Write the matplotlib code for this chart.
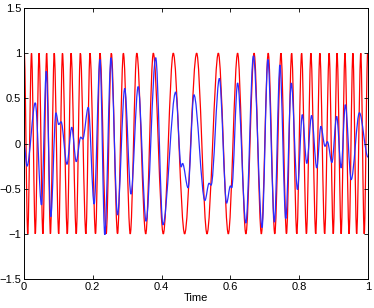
import numpy as np
import matplotlib
matplotlib.use('Agg')
import matplotlib.pyplot as plt
from matplotlib.path import Path
from matplotlib.patches import PathPatch

plt.rcParams['font.family'] = ['Liberation Sans', 'DejaVu Sans']

# red signal: times of the peaks (+1) and troughs (-1)
red_peak_t = [0.001, 0.022, 0.044, 0.066, 0.088, 0.112, 0.137, 0.164, 0.192, 0.221,
              0.254, 0.289, 0.328, 0.376, 0.434, 0.502, 0.565, 0.621, 0.669, 0.710,
              0.747, 0.778, 0.807, 0.834, 0.860, 0.887, 0.910, 0.933, 0.956, 0.979, 0.999]
red_trough_t = [0.011, 0.033, 0.055, 0.077, 0.101, 0.126, 0.152, 0.180, 0.208, 0.239,
                0.272, 0.309, 0.354, 0.405, 0.467, 0.532, 0.594, 0.645, 0.690, 0.729,
                0.763, 0.793, 0.821, 0.848, 0.874, 0.899, 0.922, 0.945, 0.967, 0.989]

# blue signal: turning points (time, value)
blue_t = [0.000, 0.009, 0.033, 0.051, 0.065, 0.078, 0.093, 0.101, 0.108, 0.125,
          0.139, 0.152, 0.165, 0.171, 0.187, 0.204, 0.221, 0.235, 0.253, 0.272,
          0.293, 0.311, 0.332, 0.355, 0.383, 0.404, 0.441, 0.457, 0.461, 0.477,
          0.494, 0.526, 0.538, 0.544, 0.568, 0.589, 0.600, 0.604, 0.621, 0.645,
          0.667, 0.692, 0.709, 0.728, 0.744, 0.761, 0.777, 0.795, 0.809, 0.822,
          0.836, 0.851, 0.863, 0.875, 0.882, 0.895, 0.909, 0.922, 0.934, 0.951,
          0.975, 1.000]
blue_v = [0.00, -0.25, 0.45, -0.68, 0.80, -0.81, 0.34, 0.21, 0.24, -0.23,
          0.18, -0.20, 0.07, 0.05, 0.40, -0.67, 0.93, -1.01, 0.95, -0.79,
          0.61, -0.56, 0.63, -0.86, 0.95, -0.90, 0.57, -0.26, -0.22, -0.49,
          0.54, -0.63, -0.44, -0.46, 0.72, -0.66, -0.47, -0.49, 0.67, -0.88,
          0.97, -0.93, 0.93, -0.87, 0.87, -0.83, 0.67, -0.51, 0.32, -0.22,
          0.31, -0.27, 0.19, -0.03, 0.02, -0.21, 0.30, -0.27, 0.43, -0.40,
          0.34, -0.15]


def smooth_path(ts, vs):
    # cubic pieces with flat tangents at every turning point
    verts = [(ts[0], vs[0])]
    codes = [Path.MOVETO]
    for i in range(len(ts) - 1):
        d = (ts[i + 1] - ts[i]) / 3
        verts += [(ts[i] + d, vs[i]), (ts[i + 1] - d, vs[i + 1]), (ts[i + 1], vs[i + 1])]
        codes += [Path.CURVE4] * 3
    return Path(verts, codes)


red_t = []
red_v = []
for i, tp in enumerate(red_peak_t):
    red_t.append(tp)
    red_v.append(1.0)
    if i < len(red_trough_t):
        red_t.append(red_trough_t[i])
        red_v.append(-1.0)

fig = plt.figure(figsize=(3.74, 3.08), dpi=100)
ax = fig.add_axes([0.064, 0.094, 0.920, 0.880])

ax.add_patch(PathPatch(smooth_path(red_t, red_v), fill=False, edgecolor='#ff0000', lw=0.9))
ax.add_patch(PathPatch(smooth_path(blue_t, blue_v), fill=False, edgecolor='#2b2bff', lw=0.9))

ax.set_xlim(0, 1)
ax.set_ylim(-1.5, 1.5)
ax.set_xticks([0, 0.2, 0.4, 0.6, 0.8, 1])
ax.set_xticklabels(['0', '0.2', '0.4', '0.6', '0.8', '1'])
ax.set_yticks([-1.5, -1, -0.5, 0, 0.5, 1, 1.5])
ax.set_yticklabels(['\u22121.5', '\u22121', '\u22120.5', '0', '0.5', '1', '1.5'])
ax.tick_params(direction='in', top=True, right=True, length=3, width=0.6,
               labelsize=8, pad=2)
for s in ax.spines.values():
    s.set_linewidth(0.7)
ax.set_xlabel('Time', fontsize=8, labelpad=1)

plt.savefig('out.png', dpi=100)
